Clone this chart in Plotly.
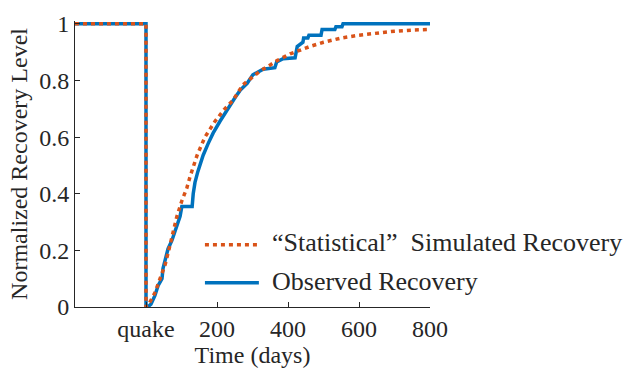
import plotly.graph_objects as go

# Observed recovery (days relative to quake, normalized level)
obs_t = [-200, 0, 0, 5, 14, 25, 34, 45, 48, 54, 62, 73, 82, 87, 96, 101, 130, 133, 138, 146,
         161, 175, 189, 208, 228, 251, 265, 285, 301, 315, 330, 363, 368, 386, 420, 426, 442,
         444, 456, 459, 493, 496, 532, 535, 552, 555, 800]
obs_y = [1, 1, 0, 0, 0.01, 0.04, 0.075, 0.10, 0.137, 0.164, 0.205, 0.235, 0.27, 0.29, 0.32, 0.355,
         0.355, 0.40, 0.44, 0.478, 0.536, 0.577, 0.614, 0.655, 0.696, 0.74, 0.765, 0.79, 0.82, 0.83,
         0.84, 0.845, 0.865, 0.877, 0.88, 0.92, 0.935, 0.95, 0.95, 0.96, 0.96, 0.98, 0.98, 0.99,
         0.99, 1.0, 1.0]

# "Statistical" simulated recovery
sim_t = [-200, 0, 0, 10, 25, 39, 54, 65, 76, 87, 101, 115, 124, 144, 166, 194, 222, 245, 273, 300,
         321, 350, 369, 406, 434, 462, 500, 550, 600, 650, 700, 750, 800]
sim_y = [1, 1, 0, 0.015, 0.05, 0.10, 0.15, 0.205, 0.26, 0.32, 0.375, 0.42, 0.46, 0.536, 0.6, 0.655,
         0.70, 0.73, 0.785, 0.812, 0.833, 0.855, 0.87, 0.894, 0.908, 0.92, 0.935, 0.95, 0.96, 0.968,
         0.974, 0.978, 0.98]

x_tickvals = [0, 200, 400, 600, 800]
x_ticktext = ["quake", "200", "400", "600", "800"]
y_tickvals = [0, 0.2, 0.4, 0.6, 0.8, 1]
y_ticktext = ["0", "0.2", "0.4", "0.6", "0.8", "1"]

BLUE = "#0072BD"
ORANGE = "#D95319"
TXT = "#262626"
FONT = "Liberation Serif, Times New Roman, serif"
f24 = dict(family=FONT, size=24, color=TXT)

fig = go.Figure()
fig.add_trace(go.Scatter(x=obs_t, y=obs_y, mode="lines", name="Observed Recovery",
                         line=dict(color=BLUE, width=3.5), showlegend=False))
fig.add_trace(go.Scatter(x=sim_t, y=sim_y, mode="lines", name="\u201cStatistical\u201d  Simulated Recovery",
                         line=dict(color=ORANGE, width=3.5, dash="4px,4px"), showlegend=False))

# manual legend
fig.add_shape(type="line", xref="paper", yref="paper", x0=0.366, x1=0.516, y0=0.218, y1=0.218,
              line=dict(color=ORANGE, width=3.5, dash="4px,4px"))
fig.add_shape(type="line", xref="paper", yref="paper", x0=0.366, x1=0.518, y0=0.085, y1=0.085,
              line=dict(color=BLUE, width=3.5))
fig.add_annotation(xref="paper", yref="paper", x=0.549, y=0.225, xanchor="left", yanchor="middle",
                   text="\u201cStatistical\u201d  Simulated Recovery", showarrow=False,
                   font=dict(family=FONT, size=26, color=TXT))
fig.add_annotation(xref="paper", yref="paper", x=0.549, y=0.09, xanchor="left", yanchor="middle",
                   text="Observed Recovery", showarrow=False,
                   font=dict(family=FONT, size=26, color=TXT))

fig.update_layout(
    width=628, height=373,
    margin=dict(l=75, r=198, t=11, b=66),
    paper_bgcolor="white", plot_bgcolor="white",
    font=f24,
    xaxis=dict(range=[-200, 800], tickvals=x_tickvals, ticktext=x_ticktext, tickfont=f24,
               showline=True, linecolor=TXT, linewidth=1, ticks="inside", ticklen=5,
               tickcolor=TXT, showgrid=False, zeroline=False,
               title=dict(text="Time (days)", standoff=2, font=f24)),
    yaxis=dict(range=[0, 1.01], tickvals=y_tickvals, ticktext=y_ticktext, tickfont=f24,
               showline=True, linecolor=TXT, linewidth=1, ticks="inside", ticklen=5,
               tickcolor=TXT, showgrid=False, zeroline=False,
               title=dict(text="Normalized Recovery Level", standoff=4, font=f24)),
)

fig.write_html("out.html")
